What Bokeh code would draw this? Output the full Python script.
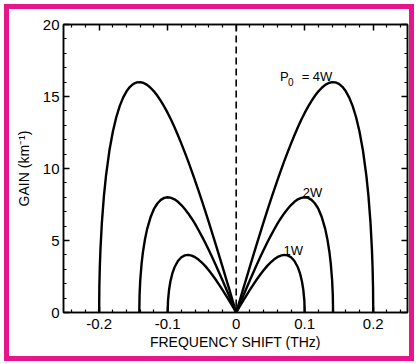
from bokeh.plotting import figure
from bokeh.models import LinearAxis, Label, Span, Range1d, FixedTicker, InlineStyleSheet
from bokeh.embed import file_html
from bokeh.resources import INLINE

# Modulation-instability gain spectra, positive-frequency half (curves are symmetric)
freq_4w = [0.0, 0.005, 0.01, 0.015, 0.02, 0.025, 0.03, 0.035, 0.04, 0.045, 0.05, 0.055,
           0.06, 0.065, 0.07, 0.075, 0.08, 0.085, 0.09, 0.095, 0.10, 0.105, 0.11, 0.115,
           0.12, 0.125, 0.13, 0.135, 0.14, 0.145, 0.15, 0.155, 0.16, 0.165, 0.17, 0.175,
           0.18, 0.185, 0.19, 0.193, 0.196, 0.198, 0.199, 0.1997, 0.2]
gain_4w = [0.0, 0.8, 1.6, 2.39, 3.18, 3.97, 4.75, 5.51, 6.27, 7.02, 7.75, 8.46,
           9.16, 9.84, 10.49, 11.12, 11.73, 12.31, 12.86, 13.38, 13.86, 14.3, 14.7, 15.05,
           15.36, 15.61, 15.81, 15.94, 16.0, 15.98, 15.88, 15.67, 15.36, 14.92, 14.33, 13.56,
           12.55, 11.25, 9.49, 8.1, 6.24, 4.47, 3.18, 1.75, 0.0]

freq_2w = [0.0, 0.005, 0.01, 0.015, 0.02, 0.025, 0.03, 0.035, 0.04, 0.045, 0.05, 0.055,
           0.06, 0.065, 0.07, 0.075, 0.08, 0.085, 0.09, 0.095, 0.10, 0.105, 0.11, 0.115,
           0.12, 0.125, 0.13, 0.133, 0.136, 0.138, 0.14, 0.141, 0.1414]
gain_2w = [0.0, 0.57, 1.13, 1.69, 2.24, 2.78, 3.32, 3.84, 4.34, 4.83, 5.29, 5.73,
           6.15, 6.53, 6.88, 7.19, 7.46, 7.69, 7.86, 7.96, 8.0, 7.96, 7.82, 7.57,
           7.19, 6.61, 5.79, 5.11, 4.22, 3.41, 2.24, 1.21, 0.0]

freq_1w = [0.0, 0.005, 0.01, 0.015, 0.02, 0.025, 0.03, 0.035, 0.04, 0.045, 0.05, 0.055,
           0.06, 0.065, 0.07, 0.075, 0.08, 0.085, 0.09, 0.093, 0.096, 0.098, 0.0995, 0.1]
gain_1w = [0.0, 0.4, 0.8, 1.19, 1.57, 1.94, 2.29, 2.62, 2.93, 3.22, 3.46, 3.68,
           3.84, 3.95, 4.0, 3.97, 3.84, 3.58, 3.14, 2.74, 2.15, 1.56, 0.8, 0.0]

x_major = [-0.2, -0.1, 0.0, 0.1, 0.2]
x_labels = ["-0.2", "-0.1", "0", "0.1", "0.2"]
x_minor = [-0.24, -0.22, -0.18, -0.16, -0.14, -0.12, -0.08, -0.06, -0.04, -0.02,
           0.02, 0.04, 0.06, 0.08, 0.12, 0.14, 0.16, 0.18, 0.22, 0.24]
y_major = [0, 5, 10, 15, 20]
y_minor = [1, 2, 3, 4, 6, 7, 8, 9, 11, 12, 13, 14, 16, 17, 18, 19]

FONT = "Liberation Sans"
PINK = "#E5168A"


def mirrored(freq, gain):
    xs = [-f for f in reversed(freq)] + list(freq)
    ys = list(reversed(gain)) + list(gain)
    return xs, ys


p = figure(width=418, height=364, x_range=Range1d(-0.252, 0.25), y_range=Range1d(0, 20),
           output_backend="svg", toolbar_location=None,
           min_border_left=63, min_border_right=11, min_border_top=24, min_border_bottom=52)
# pink page border, laid over the canvas without affecting the plot layout
p.stylesheets = [InlineStyleSheet(css=f"""
:host {{ position: relative; }}
:host::after {{
  content: "";
  position: absolute;
  left: 4px; top: 4px; right: 4px; bottom: 3px;
  border: 5px solid {PINK};
  pointer-events: none;
  z-index: 100;
}}
""")]
p.background_fill_color = "white"
p.border_fill_color = "white"
p.xgrid.grid_line_color = None
p.ygrid.grid_line_color = None
p.outline_line_color = "black"
p.outline_line_width = 1.5

x_ticker = FixedTicker(ticks=x_major, minor_ticks=x_minor)
y_ticker = FixedTicker(ticks=y_major, minor_ticks=y_minor)


def style_axis(ax):
    ax.axis_line_color = "black"
    ax.axis_line_width = 1.5
    ax.major_tick_in = 6
    ax.major_tick_out = 0
    ax.minor_tick_in = 3
    ax.minor_tick_out = 0
    ax.major_tick_line_width = 1.5
    ax.minor_tick_line_width = 1.2
    ax.major_label_text_font = FONT
    ax.major_label_text_color = "black"
    ax.major_label_text_font_size = "15px"


def style_label(ax, text, standoff):
    ax.axis_label = text
    ax.axis_label_text_font = FONT
    ax.axis_label_text_font_size = "14px"
    ax.axis_label_text_font_style = "normal"
    ax.axis_label_text_color = "black"
    ax.axis_label_standoff = standoff


xa = p.xaxis[0]
xa.ticker = x_ticker
xa.major_label_overrides = {v: s for v, s in zip(x_major, x_labels)}
style_axis(xa)
xa.major_label_standoff = 6
style_label(xa, "FREQUENCY SHIFT (THz)", 2)

ya = p.yaxis[0]
ya.ticker = y_ticker
style_axis(ya)
ya.major_label_standoff = 4
style_label(ya, "GAIN (km\u207b\u00b9)", 8)

# mirrored tick marks on the top and right edges, without labels
top = LinearAxis(ticker=x_ticker, major_label_overrides={v: "" for v in x_major})
style_axis(top)
top.major_label_standoff = 0
p.add_layout(top, "above")
right = LinearAxis(ticker=y_ticker, major_label_overrides={v: "" for v in y_major})
style_axis(right)
right.major_label_standoff = 0
p.add_layout(right, "right")

# zero-shift marker
p.add_layout(Span(location=0, dimension="height", line_color="black",
                  line_width=1.6, line_dash="7 4"))

for f, g in [(freq_4w, gain_4w), (freq_2w, gain_2w), (freq_1w, gain_1w)]:
    xs, ys = mirrored(f, g)
    p.line(xs, ys, line_color="black", line_width=2.4, line_join="round")


# curve annotations
def add_text(x, y, text, size="13px"):
    p.add_layout(Label(x=x, y=y, text=text, text_font=FONT, text_font_size=size,
                       text_color="black", text_baseline="alphabetic", text_align="left"))


add_text(0.064, 16.4, "P")
add_text(0.0755, 16.0, "0", size="10px")
add_text(0.0955, 16.4, "= 4W")
add_text(0.097, 8.35, "2W")
add_text(0.069, 4.3, "1W")

open("out.html", "w").write(file_html(p, INLINE))
